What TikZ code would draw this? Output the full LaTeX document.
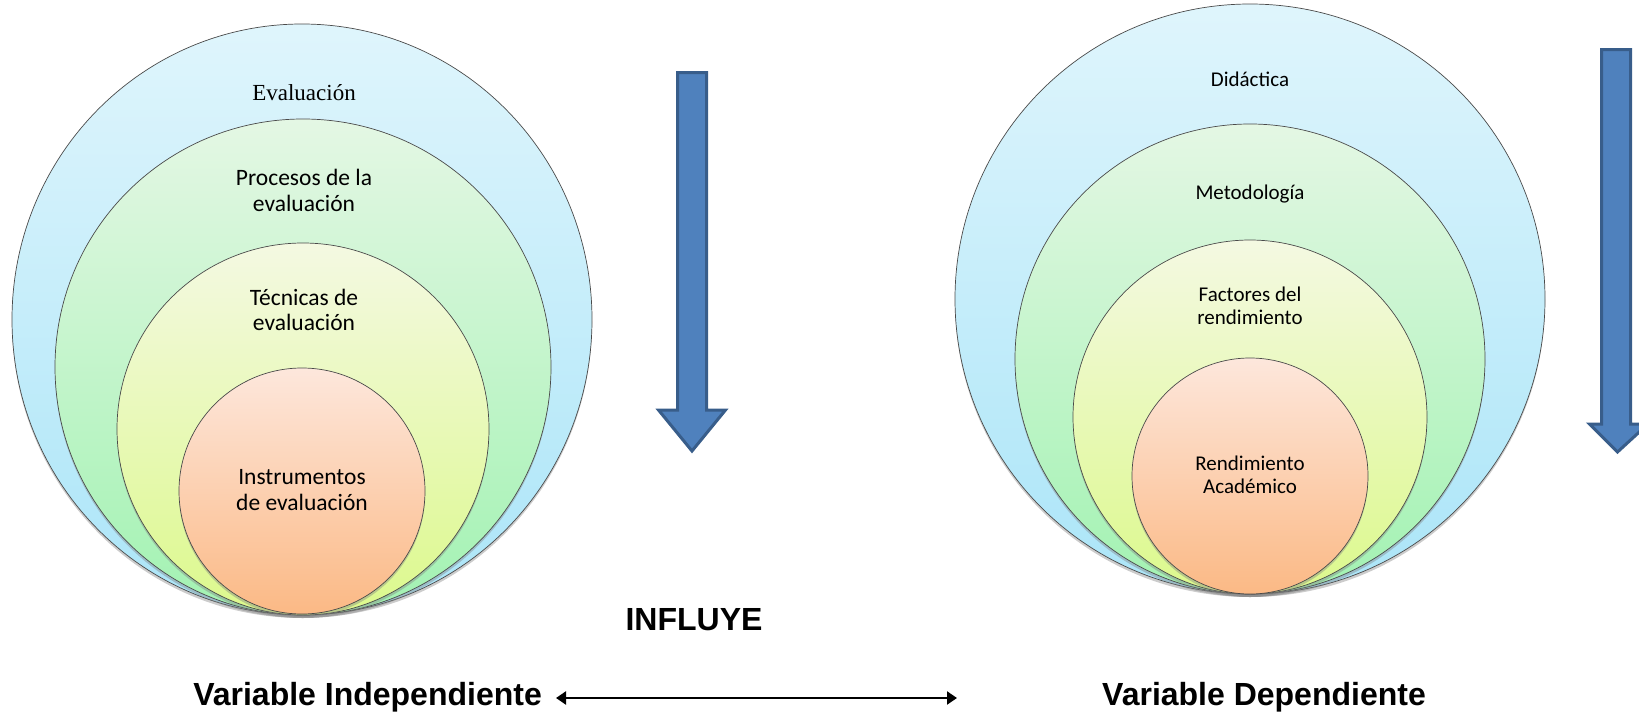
\documentclass[tikz,border=0pt]{standalone}
\usepackage{fontspec}
\setmainfont{Carlito}
\newfontfamily\serifface{Liberation Serif}
\newfontfamily\labelface{Liberation Sans}
\usetikzlibrary{shadows,arrows.meta,shapes.geometric}

\definecolor{blueTop}{HTML}{DFF5FC}
\definecolor{blueBot}{HTML}{ABE5F8}
\definecolor{greenTop}{HTML}{E4F7E4}
\definecolor{greenBot}{HTML}{A2F2B2}
\definecolor{yellowTop}{HTML}{F4F9E2}
\definecolor{yellowBot}{HTML}{DCF98C}
\definecolor{orangeTop}{HTML}{FDE7DC}
\definecolor{orangeBot}{HTML}{FBB985}
\definecolor{ringLine}{HTML}{4A4A4A}
\definecolor{arrowFill}{HTML}{4F81BD}
\definecolor{arrowLine}{HTML}{385D8A}

\begin{document}
\begin{tikzpicture}[x=1pt,y=-1pt,
  ring/.style={ellipse, draw=ringLine, line width=0.7pt, inner sep=0pt,
    drop shadow={opacity=0.4, shadow xshift=0pt, shadow yshift=-3pt}},
  bluering/.style={ring, top color=blueTop, bottom color=blueBot},
  greenring/.style={ring, top color=greenTop, bottom color=greenBot},
  yellowring/.style={ring, top color=yellowTop, bottom color=yellowBot},
  orangering/.style={ring, top color=orangeTop, bottom color=orangeBot},
  ringtext/.style={align=center, inner sep=0pt, font=\fontsize{23.5}{25.5}\selectfont},
  ringtextR/.style={align=center, inner sep=0pt, font=\fontsize{21}{23}\selectfont},
  bigtext/.style={inner sep=0pt, font=\labelface\bfseries\fontsize{32}{36}\selectfont},
  blockarrow/.style={fill=arrowFill, draw=arrowLine, line width=3pt, line join=miter}
]
\useasboundingbox (0,0) rectangle (1639,720);
\clip (0,0) rectangle (1639,720);

% nested circles of the independent variable
\node[bluering,   minimum width=580pt, minimum height=591pt] (ev1) at (302,319.5) {};
\node[greenring,  minimum size=496pt] (ev2) at (303,367) {};
\node[yellowring, minimum size=372pt] (ev3) at (303,429) {};
\node[orangering, minimum size=246pt] (ev4) at (302,491) {};

\node[inner sep=0pt, font=\serifface\fontsize{23}{25}\selectfont] (tev1) at (304,93) {Evaluación};
\node[ringtext] (tev2) at (304,190.5) {Procesos de la\\evaluación};
\node[ringtext] (tev3) at (304,310) {Técnicas de\\evaluación};
\node[ringtext] (tev4) at (302,490) {Instrumentos\\de evaluación};

% nested circles of the dependent variable
\node[bluering,   minimum size=590pt] (rd1) at (1250,299) {};
\node[greenring,  minimum size=470pt] (rd2) at (1250,359) {};
\node[yellowring, minimum size=354pt] (rd3) at (1250,417) {};
\node[orangering, minimum size=236pt] (rd4) at (1250,476) {};

\node[ringtextR] (trd1) at (1250,79) {Didáctica};
\node[ringtextR] (trd2) at (1250,194) {Metodología};
\node[ringtextR] (trd3) at (1250,306) {Factores del\\rendimiento};
\node[ringtextR] (trd4) at (1250,475) {Rendimiento\\Académico};

% downward block arrows
\draw[blockarrow] (677.5,72.5) -- (706.5,72.5) -- (706.5,410) -- (725.5,410)
  -- (692,451) -- (658.5,410) -- (677.5,410) -- cycle;
\draw[blockarrow] (1601.5,49.5) -- (1630.5,49.5) -- (1630.5,424) -- (1648,424)
  -- (1617.5,452) -- (1589.5,424) -- (1601.5,424) -- cycle;

% relation between the two variables
\node[bigtext] (infl) at (694,620) {INFLUYE};
\node[bigtext, anchor=east] (vi) at (542,697) {Variable Independiente};
\node[bigtext] (vd) at (1264,697) {Variable Dependiente};
\coordinate (vdend) at (957,698);
\draw[{Triangle[length=10pt,width=13pt]}-{Triangle[length=10pt,width=13pt]}, line width=2.2pt]
  ([xshift=14pt]vi.east |- vdend) -- (vdend);
\end{tikzpicture}
\end{document}
